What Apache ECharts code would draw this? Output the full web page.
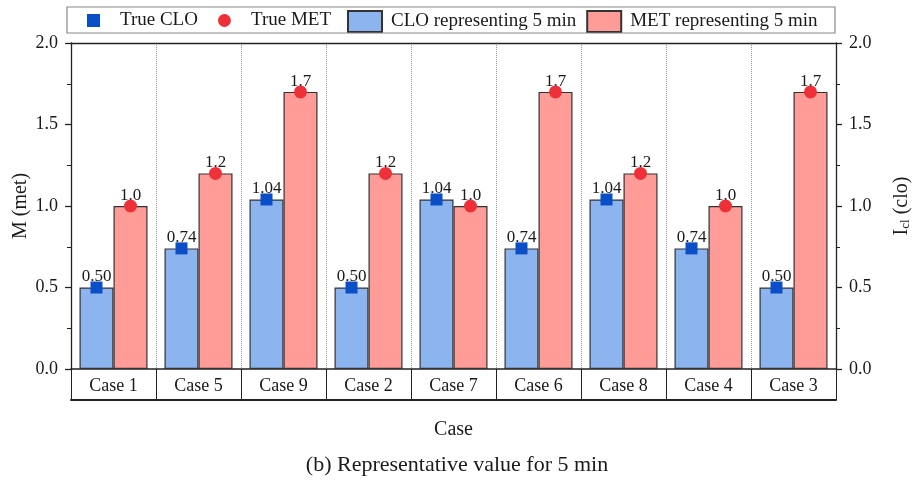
<!DOCTYPE html>
<html>
<head>
<meta charset="utf-8">
<script src="https://cdn.jsdelivr.net/npm/echarts@6/dist/echarts.min.js"></script>
<style>html,body{margin:0;padding:0;background:#fff;}#c{width:914px;height:481px;}</style>
</head>
<body>
<div id="c"></div>
<script>
const categories = ['Case 1','Case 5','Case 9','Case 2','Case 7','Case 6','Case 8','Case 4','Case 3'];
const cloValues = [0.50, 0.74, 1.04, 0.50, 1.04, 0.74, 1.04, 0.74, 0.50];
const metValues = [1.0, 1.2, 1.7, 1.2, 1.0, 1.7, 1.2, 1.0, 1.7];
const yMin = 0, yMax = 2, yStep = 0.5;

const FONT = '"Liberation Serif", "Times New Roman", serif';
const BLUE_BAR = '#8cb4ee', RED_BAR = '#ff9c98';
const BLUE_MK = '#0a4fc8', RED_MK = '#ee3139';

function markerRenderer(side, shape, color, digits) {
  return function (params, api) {
    const i = api.value(0), v = api.value(1);
    const p = api.coord([i, v]);
    const band = api.size([1, 0])[0];
    const x = p[0] + side * band * 0.2;
    const y = p[1];
    const sym = shape === 'rect'
      ? { type: 'rect', shape: { x: x - 6, y: y - 6, width: 12, height: 12 }, style: { fill: color } }
      : { type: 'circle', shape: { cx: x, cy: y, r: 6.5 }, style: { fill: color } };
    return {
      type: 'group',
      children: [
        { type: 'text', style: { text: v.toFixed(digits), x: x, y: y - 2, align: 'center', verticalAlign: 'bottom', font: '17px ' + FONT, fill: '#1a1a1a' } },
        sym
      ]
    };
  };
}

const yAxisCommon = {
  type: 'value', min: yMin, max: yMax, interval: yStep,
  axisLine: { show: true, lineStyle: { color: '#222', width: 1.3 } },
  axisTick: { show: true, inside: false, length: 6, lineStyle: { color: '#222', width: 1.3 } },
  minorTick: { show: true, splitNumber: 2, length: 4, lineStyle: { color: '#222', width: 1 } },
  splitLine: { show: false },
  axisLabel: { formatter: v => v.toFixed(1), fontFamily: FONT, fontSize: 18, color: '#1a1a1a', margin: 13 },
  nameLocation: 'middle', nameRotate: 90, nameMoveOverlap: false,
  nameTextStyle: { fontFamily: FONT, fontSize: 20, color: '#1a1a1a' }
};

const chart = echarts.init(document.getElementById('c'));
chart.setOption({
  animation: false,
  backgroundColor: '#fff',
  title: {
    text: '(b) Representative value for 5 min',
    left: 'center', top: 449,
    textStyle: { fontFamily: FONT, fontSize: 22, fontWeight: 'normal', color: '#1a1a1a' }
  },
  graphic: [{
    type: 'rect', shape: { x: 67, y: 7, width: 768, height: 26 },
    style: { fill: 'none', stroke: '#888', lineWidth: 1.2 }, z: 10
  }],
  legend: [
    {
      left: 87, top: 10, padding: 0, itemWidth: 13, itemHeight: 13, itemGap: 20,
      data: [{ name: 'True CLO', icon: 'rect' }, { name: 'True MET', icon: 'circle' }],
      textStyle: { fontFamily: FONT, fontSize: 19, color: '#1a1a1a', lineHeight: 21, padding: [0, 0, 0, 15] }
    },
    {
      left: 347, top: 10, padding: 0, itemWidth: 34, itemHeight: 21, itemGap: 10,
      data: [{ name: 'CLO representing 5 min', icon: 'rect' }, { name: 'MET representing 5 min', icon: 'rect' }],
      textStyle: { fontFamily: FONT, fontSize: 19, color: '#1a1a1a', lineHeight: 21, padding: [0, 0, 0, 4] }
    }
  ],
  grid: { left: 71, right: 78, top: 43, bottom: 112, containLabel: false, outerBoundsMode: 'none' },
  xAxis: [
    {
      type: 'category', data: categories, position: 'bottom',
      axisLine: { show: true, onZero: false, lineStyle: { color: '#222', width: 1.5 } },
      axisTick: { show: true, inside: false, length: 31, lineStyle: { color: '#222', width: 1 } },
      axisLabel: { fontFamily: FONT, fontSize: 18, color: '#1a1a1a', margin: 8 },
      splitLine: { show: true, lineStyle: { color: '#999', type: 'dotted', width: 1 } },
      name: 'Case', nameLocation: 'middle', nameGap: 51, nameMoveOverlap: false,
      nameTextStyle: { fontFamily: FONT, fontSize: 20, color: '#1a1a1a' }
    },
    {
      type: 'category', data: categories, position: 'bottom', offset: 31,
      axisLine: { show: true, onZero: false, lineStyle: { color: '#222', width: 2 } },
      axisTick: { show: false }, axisLabel: { show: false }, splitLine: { show: false }
    },
    {
      type: 'category', data: categories, position: 'top',
      axisLine: { show: true, onZero: false, lineStyle: { color: '#222', width: 1.3 } },
      axisTick: { show: false }, axisLabel: { show: false }, splitLine: { show: false }
    }
  ],
  yAxis: [
    Object.assign({}, yAxisCommon, { position: 'left', name: 'M (met)', nameGap: 40 }),
    Object.assign({}, yAxisCommon, {
      position: 'right', nameGap: 52,
      name: '{a|I}{b|cl}{a| (clo)}',
      nameTextStyle: {
        fontFamily: FONT, fontSize: 20, color: '#1a1a1a',
        rich: {
          a: { fontFamily: FONT, fontSize: 20, color: '#1a1a1a', verticalAlign: 'bottom', lineHeight: 24 },
          b: { fontFamily: FONT, fontSize: 13, color: '#1a1a1a', verticalAlign: 'bottom', lineHeight: 20 }
        }
      }
    })
  ],
  series: [
    {
      name: 'CLO representing 5 min', type: 'bar', xAxisIndex: 0, yAxisIndex: 1,
      data: cloValues, barWidth: '40%', barGap: '0%',
      itemStyle: { color: BLUE_BAR, borderColor: '#333', borderWidth: 1.2 }
    },
    {
      name: 'MET representing 5 min', type: 'bar', xAxisIndex: 0, yAxisIndex: 0,
      data: metValues, barWidth: '40%', barGap: '0%',
      itemStyle: { color: RED_BAR, borderColor: '#333', borderWidth: 1.2 }
    },
    {
      name: 'True CLO', type: 'custom', xAxisIndex: 0, yAxisIndex: 1, z: 5,
      itemStyle: { color: BLUE_MK },
      encode: { x: 0, y: 1 },
      data: cloValues.map((v, i) => [i, v]),
      renderItem: markerRenderer(-1, 'rect', BLUE_MK, 2)
    },
    {
      name: 'True MET', type: 'custom', xAxisIndex: 0, yAxisIndex: 0, z: 5,
      itemStyle: { color: RED_MK },
      encode: { x: 0, y: 1 },
      data: metValues.map((v, i) => [i, v]),
      renderItem: markerRenderer(1, 'circle', RED_MK, 1)
    }
  ]
});
</script>
</body>
</html>
